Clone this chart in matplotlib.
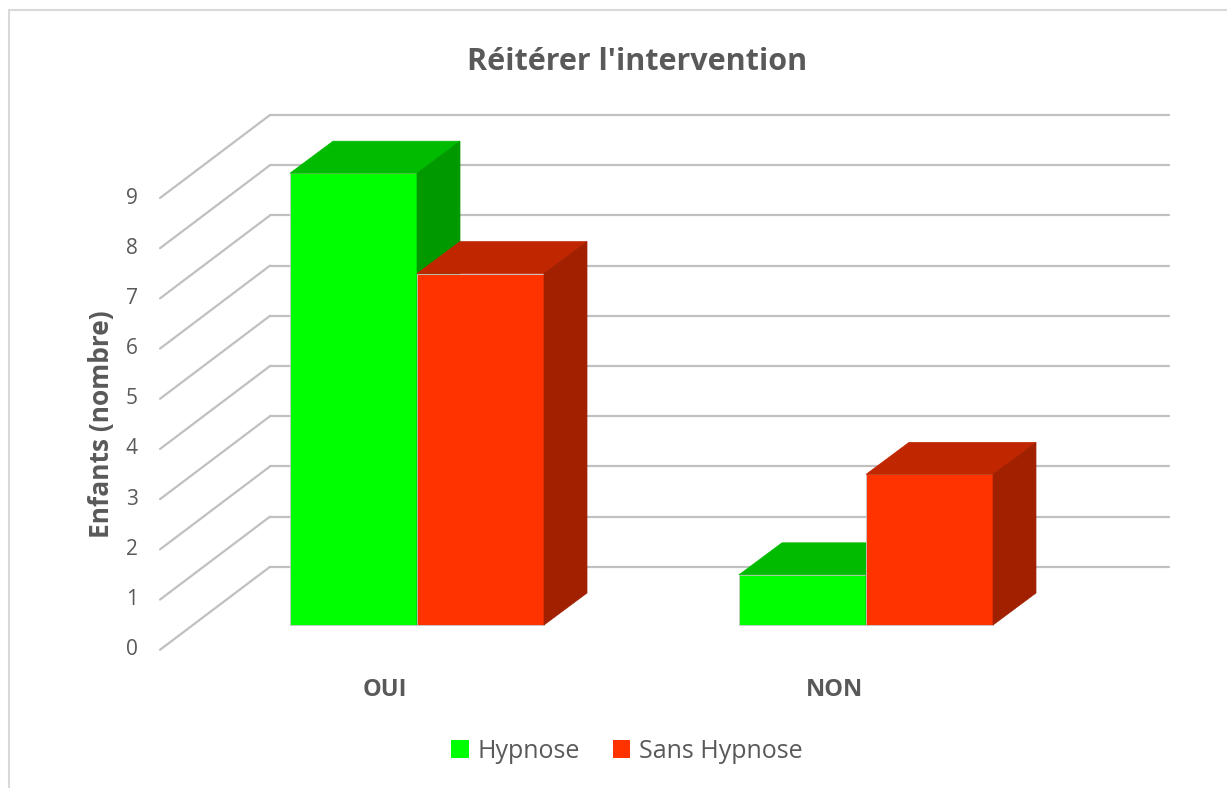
import matplotlib
matplotlib.use("Agg")
import matplotlib.pyplot as plt
from matplotlib.patches import Polygon, Rectangle, Patch

plt.rcParams['font.family'] = ['Open Sans', 'DejaVu Sans']

# Données
categories = ['OUI', 'NON']
hypnose = [9, 1]
sans_hypnose = [7, 3]
series_names = ['Hypnose', 'Sans Hypnose']
y_ticks = list(range(0, 10))
grid_levels = list(range(1, 11))

# couleurs (face avant, dessus, côté)
green = ('#00ff00', '#00bb00', '#009900')
red = ('#ff3300', '#c02600', '#a02000')
txt = '#595959'
grid_c = '#c0c0c0'

# géométrie de la pseudo-3D
W, H = 1227, 788
U = 50.2          # pixels par unité de valeur
G = 449.0         # pixels entre catégories
BW = 127 / G      # largeur d'une barre
BDX, BDY = 43 / G, 32 / U       # profondeur des barres
WDX, WDY = 110 / G, 83 / U      # profondeur des murs
BACK_DV = 8 / U
WALL_X0, WALL_X1 = (270 - 417) / G, (1169 - 417) / G

fig = plt.figure(figsize=(W / 100, H / 100), dpi=100)
ax = fig.add_axes([0, 0, 1, 1])
ax.set_xlim(-417 / G, (W - 417) / G)
ax.set_ylim(-(H - 625) / U, 625 / U)
ax.axis('off')

# mur du fond et mur de gauche
for v in grid_levels:
    yb = v + BACK_DV
    ax.plot([WALL_X0, WALL_X1], [yb, yb], color=grid_c, lw=1.6,
            solid_capstyle='round', zorder=1)
    ax.plot([WALL_X0 - WDX, WALL_X0], [yb - WDY, yb], color=grid_c, lw=1.6,
            solid_capstyle='round', zorder=1)

# étiquettes de l'axe des valeurs
for v in y_ticks:
    ax.text(WALL_X0 - WDX - 22 / G, v + 1 + BACK_DV - WDY, str(v),
            ha='right', va='center', fontsize=15, color=txt)


def bar3d(x0, h, cols):
    x1 = x0 + BW
    ax.add_patch(Rectangle((x0, 0), BW, h, facecolor=cols[0],
                           edgecolor='#c8c8c8', lw=0.6, zorder=3))
    ax.add_patch(Polygon([(x0, h), (x1, h), (x1 + BDX, h + BDY), (x0 + BDX, h + BDY)],
                         closed=True, facecolor=cols[1], edgecolor=cols[1],
                         lw=0.5, zorder=3))
    ax.add_patch(Polygon([(x1, 0), (x1 + BDX, BDY), (x1 + BDX, h + BDY), (x1, h)],
                         closed=True, facecolor=cols[2], edgecolor=cols[2],
                         lw=0.5, zorder=3))


for i, cat in enumerate(categories):
    bar3d(i - BW, hypnose[i], green)
    bar3d(i, sans_hypnose[i], red)
    ax.text(i - 32 / G, -65 / U, cat, ha='center', va='center',
            fontsize=17, fontweight='bold', color=txt)

# titres
fig.text(637 / W, 1 - 62 / H, "Réitérer l'intervention", ha='center', va='center',
         fontsize=22, fontweight='bold', color=txt)
fig.text(101 / W, 1 - 424 / H, 'Enfants (nombre)', ha='center', va='center',
         rotation=90, fontsize=19, fontweight='bold', color=txt)

# légende
handles = [Patch(facecolor=green[0]), Patch(facecolor=red[0])]
fig.legend(handles, series_names, loc='center', bbox_to_anchor=(0.511, 1 - 751 / H),
           ncol=2, frameon=False, fontsize=18, labelcolor=txt,
           handlelength=0.7, handleheight=0.7, handletextpad=0.35,
           columnspacing=1.3)

# cadre du graphique
fig.patches.append(Rectangle((9 / W, -0.1), 1.2, 1.1 - 10 / H, transform=fig.transFigure,
                             fill=False, edgecolor='#d9d9d9', lw=1.5))

fig.savefig('out.png', dpi=100, facecolor='white')
